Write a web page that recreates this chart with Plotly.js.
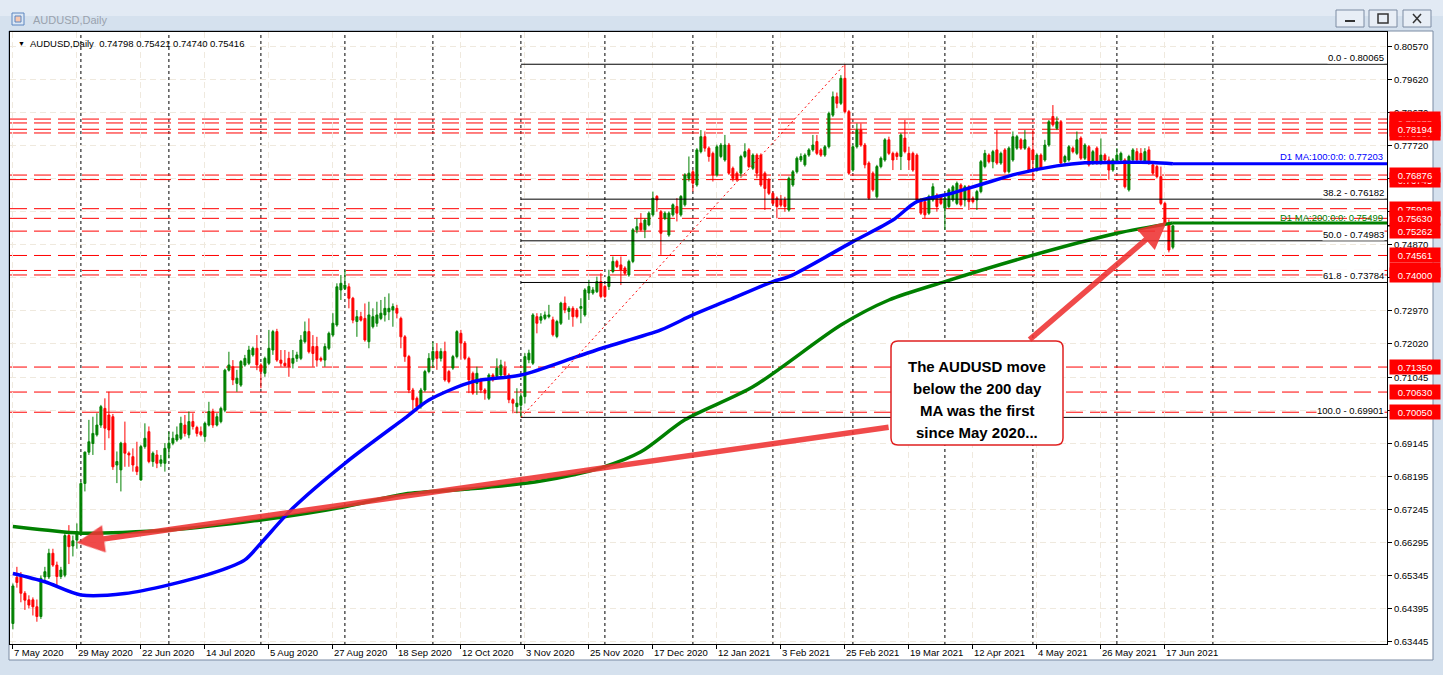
<!DOCTYPE html>
<html><head><meta charset="utf-8">
<script src="https://cdn.plot.ly/plotly-3.0.1.min.js"></script>
<style>html,body{margin:0;padding:0;background:#d5e1ee;overflow:hidden}#chart{width:1443px;height:675px}</style>
</head><body><div id="chart"></div>
<script>
// ---- Daily AUDUSD candles, bar index 0 = 7 May 2020 ... 290 = 21 Jun 2021 ----
const openP = [
0.6397,0.6530,0.6532,0.6484,0.6465,0.6465,0.6445,0.6417,0.6531,0.6531,
0.6599,0.6565,0.6532,0.6536,0.6650,0.6620,0.6637,0.6661,0.6800,0.6890,
0.6915,0.6940,0.6968,0.7016,0.6997,0.6992,0.6853,0.6839,0.6916,0.6887,
0.6877,0.6848,0.6810,0.6906,0.6949,0.6863,0.6882,0.6858,0.6858,0.6901,
0.6916,0.6925,0.6930,0.6968,0.6940,0.6978,0.6961,0.6949,0.6935,0.6968,
0.7007,0.6968,0.6978,0.7011,0.7126,0.7136,0.7088,0.7083,0.7141,0.7146,
0.7170,0.7189,0.7141,0.7117,0.7146,0.7184,0.7237,0.7155,0.7146,0.7160,
0.7146,0.7160,0.7160,0.7208,0.7237,0.7194,0.7194,0.7160,0.7155,0.7189,
0.7227,0.7256,0.7357,0.7361,0.7366,0.7333,0.7266,0.7280,0.7275,0.7208,
0.7251,0.7261,0.7275,0.7285,0.7294,0.7299,0.7304,0.7275,0.7222,0.7165,
0.7069,0.7045,0.7021,0.7069,0.7122,0.7156,0.7180,0.7160,0.7180,0.7122,
0.7132,0.7165,0.7232,0.7204,0.7160,0.7117,0.7088,0.7098,0.7069,0.7045,
0.7112,0.7108,0.7112,0.7132,0.7112,0.7041,0.7021,0.7025,0.7050,0.7156,
0.7146,0.7280,0.7270,0.7275,0.7280,0.7271,0.7223,0.7261,0.7319,0.7295,
0.7304,0.7299,0.7304,0.7285,0.7348,0.7348,0.7352,0.7381,0.7367,0.7367,
0.7410,0.7439,0.7429,0.7420,0.7400,0.7439,0.7530,0.7549,0.7530,0.7544,
0.7573,0.7626,0.7582,0.7563,0.7515,0.7573,0.7597,0.7573,0.7602,0.7678,
0.7697,0.7659,0.7755,0.7798,0.7765,0.7750,0.7688,0.7741,0.7731,0.7774,
0.7707,0.7693,0.7693,0.7741,0.7760,0.7707,0.7745,0.7745,0.7693,0.7674,
0.7635,0.7621,0.7616,0.7616,0.7587,0.7659,0.7697,0.7731,0.7717,0.7745,
0.7760,0.7784,0.7760,0.7745,0.7769,0.7860,0.7913,0.7894,0.7966,0.7870,
0.7702,0.7769,0.7817,0.7774,0.7722,0.7693,0.7625,0.7712,0.7731,0.7789,
0.7750,0.7750,0.7741,0.7794,0.7750,0.7750,0.7745,0.7616,0.7611,0.7578,
0.7616,0.7630,0.7626,0.7592,0.7597,0.7616,0.7606,0.7659,0.7616,0.7654,
0.7621,0.7616,0.7640,0.7712,0.7745,0.7726,0.7760,0.7722,0.7760,0.7697,
0.7731,0.7765,0.7789,0.7765,0.7765,0.7760,0.7702,0.7745,0.7731,0.7774,
0.7856,0.7822,0.7841,0.7726,0.7731,0.7765,0.7750,0.7794,0.7736,0.7769,
0.7722,0.7765,0.7722,0.7745,0.7731,0.7702,0.7726,0.7731,0.7731,0.7645,
0.7731,0.7755,0.7750,0.7726,0.7760,0.7717,0.7712,0.7683,0.7606,0.7549,
0.74798];
const highP = [
0.6512,0.6560,0.6545,0.6490,0.6478,0.6472,0.6466,0.6535,0.6560,0.6612,
0.6612,0.6575,0.6560,0.6660,0.6680,0.6650,0.6685,0.6805,0.6892,0.6983,
0.6992,0.7002,0.7026,0.7045,0.7064,0.7000,0.6892,0.6920,0.6978,0.6892,
0.6901,0.6920,0.6911,0.6973,0.6964,0.6892,0.6896,0.6882,0.6916,0.6949,
0.6949,0.6964,0.6992,0.6997,0.7007,0.7002,0.6966,0.6964,0.6978,0.7035,
0.7015,0.7002,0.7021,0.7130,0.7179,0.7155,0.7127,0.7155,0.7170,0.7196,
0.7194,0.7227,0.7146,0.7165,0.7242,0.7242,0.7245,0.7184,0.7184,0.7179,
0.7184,0.7179,0.7227,0.7266,0.7275,0.7227,0.7222,0.7165,0.7203,0.7237,
0.7290,0.7376,0.7400,0.7414,0.7376,0.7337,0.7299,0.7294,0.7318,0.7323,
0.7304,0.7323,0.7328,0.7337,0.7347,0.7318,0.7314,0.7280,0.7227,0.7170,
0.7075,0.7050,0.7075,0.7127,0.7175,0.7208,0.7204,0.7189,0.7208,0.7127,
0.7170,0.7241,0.7242,0.7210,0.7165,0.7122,0.7136,0.7103,0.7074,0.7117,
0.7117,0.7160,0.7156,0.7151,0.7117,0.7045,0.7074,0.7060,0.7175,0.7185,
0.7290,0.7290,0.7290,0.7295,0.7314,0.7280,0.7271,0.7323,0.7338,0.7310,
0.7310,0.7305,0.7333,0.7362,0.7386,0.7365,0.7395,0.7405,0.7372,0.7415,
0.7453,0.7444,0.7453,0.7425,0.7444,0.7535,0.7563,0.7578,0.7563,0.7583,
0.7640,0.7630,0.7587,0.7583,0.7583,0.7606,0.7621,0.7630,0.7693,0.7741,
0.7702,0.7765,0.7817,0.7813,0.7770,0.7755,0.7775,0.7780,0.7803,0.7780,
0.7712,0.7698,0.7746,0.7779,0.7765,0.7750,0.7750,0.7750,0.7698,0.7679,
0.7640,0.7626,0.7630,0.7625,0.7683,0.7702,0.7741,0.7750,0.7750,0.7765,
0.7803,0.7803,0.7765,0.7774,0.7870,0.7928,0.7925,0.7975,0.80065,0.7875,
0.7775,0.7836,0.7836,0.7780,0.7727,0.7698,0.7717,0.7741,0.7794,0.7798,
0.7755,0.7755,0.7808,0.7846,0.7769,0.7755,0.7750,0.7621,0.7616,0.7631,
0.7664,0.7635,0.7631,0.7626,0.7650,0.7659,0.7669,0.7664,0.7659,0.7659,
0.7626,0.7645,0.7731,0.7760,0.7750,0.7760,0.7817,0.7755,0.7765,0.7770,
0.7813,0.7803,0.7794,0.7817,0.7770,0.7817,0.7750,0.7750,0.7789,0.7846,
0.7889,0.7856,0.7846,0.7746,0.7774,0.7770,0.7813,0.7799,0.7779,0.7774,
0.7760,0.7770,0.7793,0.7750,0.7741,0.7736,0.7765,0.7755,0.7736,0.7746,
0.7765,0.7765,0.7765,0.7765,0.7770,0.7722,0.7717,0.7712,0.7611,0.7560,
0.75421];
const lowP = [
0.6380,0.6500,0.6458,0.6436,0.6440,0.6420,0.6402,0.6410,0.6520,0.6525,
0.6560,0.6507,0.6525,0.6530,0.6568,0.6590,0.6612,0.6655,0.6777,0.6882,
0.6882,0.6935,0.6960,0.6896,0.6930,0.6839,0.6801,0.6777,0.6848,0.6848,
0.6834,0.6824,0.6808,0.6900,0.6858,0.6848,0.6844,0.6848,0.6834,0.6872,
0.6910,0.6920,0.6925,0.6935,0.6930,0.6955,0.6935,0.6935,0.6920,0.6964,
0.6960,0.6964,0.6973,0.7005,0.7122,0.7083,0.7064,0.7078,0.7136,0.7141,
0.7165,0.7126,0.7074,0.7107,0.7141,0.7170,0.7150,0.7136,0.7136,0.7107,
0.7131,0.7150,0.7155,0.7203,0.7174,0.7136,0.7136,0.7150,0.7136,0.7184,
0.7222,0.7251,0.7328,0.7357,0.7304,0.7261,0.7222,0.7266,0.7208,0.7189,
0.7246,0.7251,0.7270,0.7266,0.7270,0.7251,0.7275,0.7189,0.7150,0.7060,
0.7012,0.7007,0.7015,0.7064,0.7117,0.7132,0.7127,0.7151,0.7093,0.7088,
0.7127,0.7160,0.7156,0.7155,0.7060,0.7055,0.7055,0.7060,0.7041,0.7040,
0.7093,0.7103,0.7108,0.7103,0.7031,0.7002,0.7002,0.69901,0.7030,0.7146,
0.7141,0.7232,0.7260,0.7270,0.7275,0.7223,0.7218,0.7256,0.7290,0.7271,
0.7251,0.7275,0.7261,0.7280,0.7328,0.7343,0.7348,0.7333,0.7333,0.7357,
0.7405,0.7420,0.7371,0.7400,0.7395,0.7434,0.7520,0.7525,0.7506,0.7540,
0.7568,0.7582,0.7458,0.7558,0.7510,0.7568,0.7554,0.7568,0.7597,0.7669,
0.7640,0.7654,0.7750,0.7755,0.7726,0.7669,0.7683,0.7736,0.7726,0.7688,
0.7669,0.7669,0.7683,0.7736,0.7707,0.7702,0.7678,0.7654,0.7587,0.7630,
0.7600,0.7563,0.7595,0.7582,0.7582,0.7654,0.7692,0.7725,0.7712,0.7740,
0.7755,0.7745,0.7740,0.7740,0.7764,0.7855,0.7880,0.7889,0.7865,0.7688,
0.7697,0.7764,0.7769,0.7707,0.7616,0.7640,0.7620,0.7707,0.7726,0.7745,
0.7702,0.7731,0.7702,0.7750,0.7702,0.7697,0.7611,0.7573,0.7563,0.7573,
0.7611,0.7582,0.7601,0.7530,0.7592,0.7611,0.7601,0.7597,0.7597,0.7587,
0.7606,0.7587,0.7635,0.7707,0.7721,0.7707,0.7717,0.7717,0.7692,0.7692,
0.7726,0.7760,0.7760,0.7760,0.7697,0.7674,0.7697,0.7702,0.7726,0.7769,
0.7827,0.7817,0.7717,0.7721,0.7726,0.7750,0.7745,0.7731,0.7731,0.7712,
0.7717,0.7717,0.7717,0.7726,0.7674,0.7697,0.7721,0.7726,0.7649,0.7640,
0.7726,0.7726,0.7726,0.7721,0.7717,0.7688,0.7678,0.7601,0.7544,0.7465,
0.74740];
const closeP = [
0.6505,0.6515,0.6484,0.6464,0.6450,0.6445,0.6417,0.6527,0.6546,0.6599,
0.6565,0.6532,0.6551,0.6650,0.6618,0.6635,0.6661,0.6800,0.6890,0.6920,
0.6944,0.6968,0.7021,0.6959,0.6954,0.6848,0.6863,0.6916,0.6887,0.6882,
0.6853,0.6834,0.6906,0.6930,0.6863,0.6887,0.6858,0.6868,0.6901,0.6916,
0.6930,0.6940,0.6973,0.6944,0.6978,0.6964,0.6944,0.6940,0.6973,0.7007,
0.6968,0.6992,0.7016,0.7126,0.7141,0.7098,0.7103,0.7151,0.7160,0.7184,
0.7189,0.7141,0.7122,0.7160,0.7189,0.7237,0.7155,0.7146,0.7139,0.7136,
0.7160,0.7170,0.7213,0.7237,0.7179,0.7174,0.7155,0.7155,0.7194,0.7232,
0.7261,0.7366,0.7376,0.7371,0.7333,0.7270,0.7280,0.7270,0.7213,0.7285,
0.7280,0.7285,0.7290,0.7304,0.7304,0.7309,0.7290,0.7222,0.7165,0.7069,
0.7041,0.7021,0.7069,0.7122,0.7160,0.7180,0.7160,0.7180,0.7098,0.7093,
0.7165,0.7237,0.7204,0.7160,0.7098,0.7060,0.7117,0.7069,0.7060,0.7112,
0.7098,0.7132,0.7141,0.7112,0.7041,0.7031,0.7031,0.7050,0.7165,0.7175,
0.7285,0.7261,0.7280,0.7285,0.7285,0.7228,0.7266,0.7319,0.7299,0.7304,
0.7280,0.7280,0.7309,0.7357,0.7367,0.7357,0.7381,0.7338,0.7338,0.7395,
0.7439,0.7424,0.7415,0.7405,0.7439,0.7530,0.7539,0.7530,0.7558,0.7578,
0.7621,0.7616,0.7520,0.7578,0.7578,0.7602,0.7578,0.7626,0.7688,0.7693,
0.7664,0.7760,0.7798,0.7765,0.7741,0.7688,0.7769,0.7774,0.7774,0.7693,
0.7678,0.7674,0.7741,0.7755,0.7712,0.7745,0.7693,0.7659,0.7649,0.7635,
0.7606,0.7597,0.7601,0.7597,0.7678,0.7697,0.7736,0.7741,0.7745,0.7760,
0.7774,0.7750,0.7745,0.7769,0.7865,0.7913,0.7894,0.7966,0.7870,0.7693,
0.7769,0.7817,0.7774,0.7717,0.7621,0.7645,0.7712,0.7736,0.7789,0.7750,
0.7731,0.7741,0.7803,0.7755,0.7731,0.7702,0.7616,0.7578,0.7573,0.7626,
0.7654,0.7597,0.7606,0.7621,0.7645,0.7654,0.7664,0.7602,0.7654,0.7611,
0.7611,0.7640,0.7726,0.7750,0.7726,0.7755,0.7722,0.7750,0.7697,0.7765,
0.7798,0.7798,0.7765,0.7789,0.7702,0.7731,0.7745,0.7707,0.7774,0.7841,
0.7832,0.7841,0.7722,0.7741,0.7769,0.7755,0.7789,0.7736,0.7774,0.7717,
0.7755,0.7722,0.7745,0.7731,0.7702,0.7731,0.7745,0.7750,0.7654,0.7741,
0.7760,0.7731,0.7731,0.7755,0.7722,0.7693,0.7683,0.7606,0.7549,0.7472,
0.75416];

// Moving averages (bar index, value)
const ma100Idx = [0,8,17,28,39,51,58,62,70,83,98,104,115,127,141,148,162,170,179,190,194,210,220,226,233,239,243,251,261,268,276,285,290];
const ma100Val = [0.6541,0.6517,0.6479,0.6483,0.6508,0.6546,0.6580,0.6628,0.6729,0.6858,0.6988,0.7040,0.7093,0.7112,0.7165,0.7192,0.7242,0.7285,0.7328,0.7381,0.7395,0.7496,0.7558,0.7611,0.7630,0.7650,0.7664,0.7691,0.7714,0.7723,0.7724,0.7724,0.77203];
const ma200Idx = [0,8,17,39,62,83,98,114,132,147,157,168,185,207,219,233,255,276,290];
const ma200Val = [0.6676,0.6666,0.6657,0.6666,0.6695,0.6733,0.6770,0.6784,0.6807,0.6845,0.6891,0.6983,0.7078,0.7256,0.7328,0.7381,0.7457,0.7520,0.75499];
const ma100Label = "D1 MA:100:0:0: 0.77203";
const ma200Label = "D1 MA:200:0:0: 0.75499";

// Horizontal levels
const redLevels = [0.78487,0.78375,0.78194,0.78087,0.76876,0.76745,0.75908,0.75630,0.75262,0.74561,0.74130,0.74000,0.71350,0.70630,0.70050];
const redLabelOrder = [0,3,1,2,5,4,6,8,7,9,10,11,12,13,14];
const fibRatios = ["0.0","38.2","50.0","61.8","100.0"];
const fibPrices = [0.80065,0.76182,0.74983,0.73784,0.69901];
const fibStartIdx = 127, fibEndIdx = 208;
const bidPrice = 0.75416;

// Axis ticks
const xTickIdx = [0,16,32,48,64,80,96,112,128,144,160,176,192,208,224,240,256,272,288];
const xTickText = ["7 May 2020","29 May 2020","22 Jun 2020","14 Jul 2020","5 Aug 2020","27 Aug 2020","18 Sep 2020","12 Oct 2020","3 Nov 2020","25 Nov 2020","17 Dec 2020","12 Jan 2021","3 Feb 2021","25 Feb 2021","19 Mar 2021","12 Apr 2021","4 May 2021","26 May 2021","17 Jun 2021"];
const monthSepIdx = [17,39,62,83,105,127,148,170,190,210,233,255,276,300];
const yTickVals = [0.63445,0.64395,0.65345,0.66295,0.67245,0.68195,0.69145,0.70095,0.71045,0.72020,0.72970,0.73920,0.74870,0.75820,0.76770,0.77720,0.78670,0.79620,0.80570];
const yTickText = yTickVals.map(v => v.toFixed(5));

const headerText = "AUDUSD,Daily  0.74798 0.75421 0.74740 0.75416";
const noteLines = ["The AUDUSD move","below the 200 day","MA was the first","since May 2020..."];
// arrow anchors (bar index, price): [headX, headY, tailX, tailY]
const arrow1 = [15.95, 0.66294, 219.3, 0.69624];
const arrow2 = [288.45, 0.75533, 253.8, 0.72100];

// ---- layout helpers (pixel -> paper) ----
const L = 10, T = 32, W = 1377, H = 612;
const px = x => (x - L) / W;
const py = y => (T + H - y) / H;
const xRange = [-0.725, 343.525];
const yRange = [0.63379, 0.80993];
const FONT = "Liberation Sans, Arial, sans-serif";

const barIdx = openP.map((_, i) => i);

const traces = [
  {type:'candlestick', x:barIdx, open:openP, high:highP, low:lowP, close:closeP,
   increasing:{line:{color:'#008000',width:1}, fillcolor:'#008000'},
   decreasing:{line:{color:'#ff0000',width:1}, fillcolor:'#ff0000'},
   whiskerwidth:0, hoverinfo:'skip', showlegend:false},
  {type:'scatter', mode:'lines', x:ma200Idx, y:ma200Val, line:{color:'#008000', width:3.5, shape:'spline', smoothing:0.8}, hoverinfo:'skip', showlegend:false},
  {type:'scatter', mode:'lines', x:ma100Idx, y:ma100Val, line:{color:'#0000ff', width:3.5, shape:'spline', smoothing:0.8}, hoverinfo:'skip', showlegend:false},
  {type:'scatter', mode:'lines', x:[ma200Idx[ma200Idx.length-1], xRange[1]], y:[ma200Val[ma200Val.length-1], ma200Val[ma200Val.length-1]], line:{color:'#008000', width:3}, hoverinfo:'skip', showlegend:false},
  {type:'scatter', mode:'lines', x:[ma100Idx[ma100Idx.length-1], xRange[1]], y:[ma100Val[ma100Val.length-1], ma100Val[ma100Val.length-1]], line:{color:'#0000ff', width:3}, hoverinfo:'skip', showlegend:false}
];

const shapes = [];
// window chrome
shapes.push({type:'rect', xref:'paper', yref:'paper', x0:px(-5), x1:px(1450), y0:py(16), y1:py(-5), fillcolor:'#e2eaf4', line:{width:0}, layer:'below'});
shapes.push({type:'rect', xref:'paper', yref:'paper', x0:px(9), x1:px(1433), y0:py(660), y1:py(31), fillcolor:'#ffffff', line:{color:'#7b8ba3', width:1}, layer:'below'});
// title bar icon
shapes.push({type:'rect', xref:'paper', yref:'paper', x0:px(12), x1:px(24), y0:py(25), y1:py(13), fillcolor:'#dbe7f5', line:{color:'#5d86c0', width:1}, layer:'below'});
shapes.push({type:'rect', xref:'paper', yref:'paper', x0:px(15), x1:px(21), y0:py(22), y1:py(16), fillcolor:'#f7c7b0', line:{color:'#5d86c0', width:1}, layer:'below'});
// window buttons
[[1336,1364],[1369,1397],[1403,1431]].forEach(b => {
  shapes.push({type:'rect', xref:'paper', yref:'paper', x0:px(b[0]), x1:px(b[1]), y0:py(27), y1:py(10), fillcolor:'#e8eef6', line:{color:'#7d8ca3', width:1}, layer:'below'});
});
shapes.push({type:'line', xref:'paper', yref:'paper', x0:px(1345), x1:px(1355), y0:py(21), y1:py(21), line:{color:'#333', width:2}});
shapes.push({type:'rect', xref:'paper', yref:'paper', x0:px(1378), x1:px(1388), y0:py(23), y1:py(14), line:{color:'#333', width:1.5}});
shapes.push({type:'line', xref:'paper', yref:'paper', x0:px(1413), x1:px(1421), y0:py(14), y1:py(23), line:{color:'#333', width:1.5}});
shapes.push({type:'line', xref:'paper', yref:'paper', x0:px(1413), x1:px(1421), y0:py(23), y1:py(14), line:{color:'#333', width:1.5}});
// month separators
monthSepIdx.forEach(i => shapes.push({type:'line', xref:'x', yref:'paper', x0:i, x1:i, y0:0, y1:1, line:{color:'#000', width:1, dash:'3px,3px'}, layer:'below'}));
// red levels
redLevels.forEach(v => shapes.push({type:'line', xref:'paper', yref:'y', x0:0, x1:1, y0:v, y1:v, line:{color:'#ff0000', width:1, dash:'17px,7px'}, layer:'below'}));
// fibonacci
fibPrices.forEach(v => shapes.push({type:'line', xref:'x', yref:'y', x0:fibStartIdx, x1:xRange[1], y0:v, y1:v, line:{color:'#000', width:1}}));
shapes.push({type:'line', xref:'x', yref:'y', x0:fibStartIdx, x1:fibEndIdx, y0:fibPrices[4], y1:fibPrices[0], line:{color:'#ff0000', width:1, dash:'2px,3px'}});
// bid marker on price scale
shapes.push({type:'line', xref:'paper', yref:'y', x0:1, x1:px(1440), y0:bidPrice, y1:bidPrice, line:{color:'#000', width:1.5}});
// note box (rounded)
(function(){
  const x0=891,x1=1063,y0=341,y1=445,r=7;
  const P=(x,y)=>px(x)+','+py(y);
  const path='M '+P(x0+r,y0)+' L '+P(x1-r,y0)+' Q '+P(x1,y0)+' '+P(x1,y0+r)+' L '+P(x1,y1-r)+' Q '+P(x1,y1)+' '+P(x1-r,y1)+' L '+P(x0+r,y1)+' Q '+P(x0,y1)+' '+P(x0,y1-r)+' L '+P(x0,y0+r)+' Q '+P(x0,y0)+' '+P(x0+r,y0)+' Z';
  shapes.push({type:'path', xref:'paper', yref:'paper', path:path, fillcolor:'#ffffff', line:{color:'#e02020', width:1.5}});
})();

const ann = [];
ann.push({xref:'paper', yref:'paper', x:px(31), y:py(20), xanchor:'left', yanchor:'middle', text:'AUDUSD,Daily', showarrow:false, font:{family:FONT, size:11, color:'#9aa2ad'}});
ann.push({xref:'paper', yref:'paper', x:px(16), y:py(43), xanchor:'left', yanchor:'middle', text:'▼', showarrow:false, font:{family:FONT, size:7, color:'#000'}});
ann.push({xref:'paper', yref:'paper', x:px(28), y:py(43), xanchor:'left', yanchor:'middle', text:headerText, showarrow:false, font:{family:FONT, size:9.5, color:'#000'}});
fibPrices.forEach((v,k) => ann.push({xref:'paper', yref:'y', x:px(1385), y:v, xanchor:'right', yanchor:'bottom', yshift:0, text:fibRatios[k]+' - '+v.toFixed(5), showarrow:false, bgcolor:'#ffffff', borderpad:0, font:{family:FONT, size:9.5, color:'#000'}}));
ann.push({xref:'paper', yref:'y', x:px(1385), y:ma100Val[ma100Val.length-1], xanchor:'right', yanchor:'bottom', yshift:0, text:ma100Label, showarrow:false, font:{family:FONT, size:9.5, color:'#0000ff'}});
ann.push({xref:'paper', yref:'y', x:px(1385), y:ma200Val[ma200Val.length-1], xanchor:'right', yanchor:'middle', yshift:5, text:ma200Label, showarrow:false, font:{family:FONT, size:9.5, color:'#008000'}});
redLabelOrder.forEach(k => ann.push({xref:'paper', yref:'y', x:px(1389), y:redLevels[k], xanchor:'left', yanchor:'middle', text:redLevels[k].toFixed(5), showarrow:false, bgcolor:'#ff0000', width:47, height:11, borderpad:1.5, align:'center', font:{family:FONT, size:9.5, color:'#ffffff'}}));
noteLines.forEach((t,k) => ann.push({xref:'paper', yref:'paper', x:px(977), y:py(366 + k*22.3), xanchor:'center', yanchor:'middle', text:'<b>'+t+'</b>', showarrow:false, font:{family:FONT, size:15, color:'#000'}}));
[arrow1, arrow2].forEach(a => ann.push({xref:'x', yref:'y', axref:'x', ayref:'y', x:a[0], y:a[1], ax:a[2], ay:a[3], text:'', showarrow:true, arrowhead:2, arrowsize:1, arrowwidth:5.5, arrowcolor:'rgba(238,50,50,0.88)', standoff:0, startstandoff:0}));

const layout = {
  width:1443, height:675, autosize:false,
  margin:{l:L, r:1443-L-W, t:T, b:675-T-H, pad:0},
  paper_bgcolor:'#d5e1ee', plot_bgcolor:'#ffffff',
  font:{family:FONT, size:9.5, color:'#000'},
  showlegend:false, dragmode:false,
  xaxis:{type:'linear', range:xRange, tickmode:'array', tickvals:xTickIdx, ticktext:xTickText,
         ticks:'outside', ticklen:4, tickcolor:'#000', ticklabelposition:'outside right',
         showline:true, linecolor:'#000', linewidth:1, mirror:true,
         showgrid:true, gridcolor:'#efe9de', griddash:'6px,4px', gridwidth:1, zeroline:false,
         rangeslider:{visible:false}, tickfont:{family:FONT, size:9.5, color:'#000'}, fixedrange:true},
  yaxis:{range:yRange, side:'right', tickmode:'array', tickvals:yTickVals, ticktext:yTickText,
         ticks:'outside', ticklen:4, tickcolor:'#000',
         showline:true, linecolor:'#000', linewidth:1, mirror:true,
         showgrid:true, gridcolor:'#efe9de', griddash:'6px,4px', gridwidth:1, zeroline:false,
         tickfont:{family:FONT, size:9.5, color:'#000'}, fixedrange:true},
  shapes:shapes, annotations:ann
};
Plotly.newPlot('chart', traces, layout, {displayModeBar:false, staticPlot:true});
</script></body></html>
